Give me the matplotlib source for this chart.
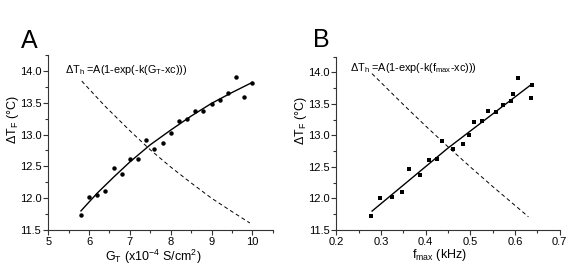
import matplotlib
matplotlib.use("Agg")
import matplotlib.pyplot as plt
from matplotlib.ticker import MultipleLocator

plt.rcParams['font.family'] = ['Liberation Sans', 'DejaVu Sans']
plt.rcParams['mathtext.fontset'] = 'custom'
plt.rcParams['mathtext.rm'] = 'Liberation Sans'
plt.rcParams['mathtext.it'] = 'Liberation Sans'
plt.rcParams['mathtext.default'] = 'regular'

# ---- data: panel A ----
gt = [5.8, 6.0, 6.2, 6.4, 6.6, 6.8, 7.0, 7.2, 7.4, 7.6, 7.8,
      8.0, 8.2, 8.4, 8.6, 8.8, 9.0, 9.2, 9.4, 9.6, 9.8, 10.0]
dtf_a = [11.74, 12.02, 12.05, 12.12, 12.48, 12.38, 12.61, 12.62, 12.92, 12.78, 12.87,
         13.02, 13.22, 13.24, 13.37, 13.37, 13.48, 13.55, 13.65, 13.91, 13.59, 13.81]
fit_a_x = [5.8, 6.2, 6.6, 7.0, 7.5, 8.0, 8.5, 9.0, 9.5, 10.0]
fit_a_y = [11.80, 12.08, 12.33, 12.57, 12.84, 13.07, 13.29, 13.49, 13.66, 13.82]
dash_a_x = [5.82, 6.4, 7.0, 7.5, 8.0, 8.5, 9.0, 9.5, 9.94]
dash_a_y = [13.84, 13.44, 13.06, 12.76, 12.49, 12.24, 12.00, 11.79, 11.61]

# ---- data: panel B ----
fmax = [0.277, 0.298, 0.325, 0.346, 0.362, 0.388, 0.407, 0.426, 0.437, 0.462, 0.483,
        0.496, 0.509, 0.525, 0.540, 0.558, 0.573, 0.590, 0.596, 0.607, 0.635, 0.637]
dtf_b = [11.73, 12.01, 12.03, 12.10, 12.47, 12.37, 12.61, 12.62, 12.91, 12.78, 12.86,
         13.01, 13.21, 13.23, 13.38, 13.37, 13.48, 13.55, 13.65, 13.91, 13.59, 13.80]
fit_b_x = [0.28, 0.45, 0.635]
fit_b_y = [11.80, 12.80, 13.80]
dash_b_x = [0.28, 0.35, 0.40, 0.45, 0.50, 0.55, 0.60, 0.63]
dash_b_y = [13.98, 13.49, 13.15, 12.82, 12.50, 12.19, 11.89, 11.71]

fig = plt.figure(figsize=(5.86, 2.73), dpi=100)
axA = fig.add_axes([0.0824, 0.1575, 0.383, 0.641])
axB = fig.add_axes([0.5739, 0.1575, 0.3812, 0.635])

def style(ax):
    for s in ['top', 'right']:
        ax.spines[s].set_visible(False)
    for s in ['left', 'bottom']:
        ax.spines[s].set_linewidth(0.8)
        ax.spines[s].set_color('#333333')
    ax.tick_params(which='major', direction='out', length=3.5, width=0.8,
                   labelsize=8, color='#333333', pad=1.5)
    ax.tick_params(which='minor', direction='out', length=2, width=0.8, color='#333333')
    ax.set_ylim(11.5, 14.25)
    ax.yaxis.set_major_locator(MultipleLocator(0.5))
    ax.yaxis.set_minor_locator(MultipleLocator(0.25))
    ax.yaxis.set_major_formatter(plt.FormatStrFormatter('%.1f'))
    ax.set_ylabel(r'$\Delta$T$_{F}$ ($\degree$C)', fontsize=9)

# Panel A
style(axA)
axA.plot(gt, dtf_a, 'o', color='black', markersize=3.2, markeredgewidth=0)
axA.plot(fit_a_x, fit_a_y, '-', color='black', lw=1.0)
axA.plot(dash_a_x, dash_a_y, color='black', lw=0.7, linestyle=(0, (4, 3)))
axA.set_xlim(5, 10.5)
axA.xaxis.set_major_locator(MultipleLocator(1))
axA.xaxis.set_minor_locator(MultipleLocator(0.5))
axA.set_xlabel(r'G$_T$ (x10$^{-4}$ S/cm$^2$)', fontsize=9)
axA.text(5.41, 14.01, r'$\Delta$T$_h$ =A(1-exp(-k(G$_T$-xc)))', fontsize=7.8, va='center', ha='left')
axA.xaxis.set_label_coords(0.467, -0.1)
axA.yaxis.set_label_coords(-0.12, 0.63)

# Panel B
style(axB)
axB.plot(fmax, dtf_b, 's', color='black', markersize=3.0, markeredgewidth=0)
axB.plot(fit_b_x, fit_b_y, '-', color='black', lw=1.0)
axB.plot(dash_b_x, dash_b_y, color='black', lw=0.7, linestyle=(0, (4, 3)))
axB.set_xlim(0.2, 0.7)
axB.xaxis.set_major_locator(MultipleLocator(0.1))
axB.xaxis.set_minor_locator(MultipleLocator(0.05))
axB.xaxis.set_major_formatter(plt.FormatStrFormatter('%.1f'))
axB.set_xlabel(r'f$_{max}$ (kHz)', fontsize=9)
axB.text(0.230, 14.07, r'$\Delta$T$_h$ =A(1-exp(-k(f$_{max}$-xc)))', fontsize=7.8, va='center', ha='left')
axB.xaxis.set_label_coords(0.464, -0.1)
axB.yaxis.set_label_coords(-0.12, 0.63)

fig.text(20.7/586, 1 - 48/273, 'A', fontsize=18, ha='left', va='baseline')
fig.text(313/586, 1 - 47/273, 'B', fontsize=18, ha='left', va='baseline')

fig.savefig('out.png', dpi=100)
